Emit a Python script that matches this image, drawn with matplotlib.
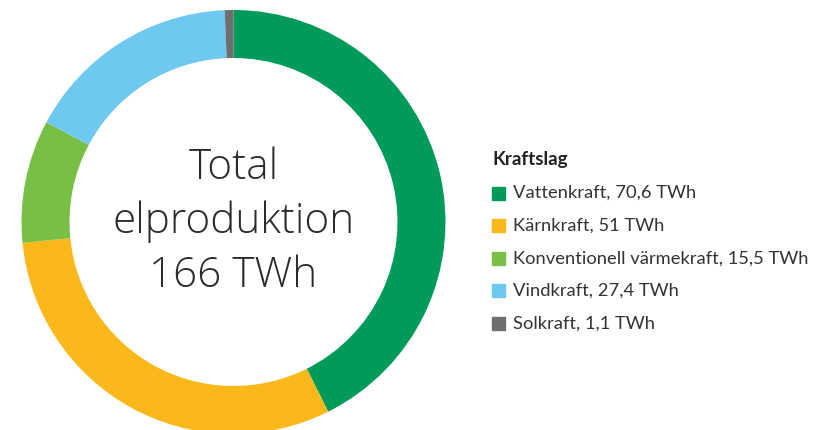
import matplotlib
matplotlib.use("Agg")
from matplotlib import pyplot as plt
from matplotlib.patches import Rectangle

labels = ["Vattenkraft", "Kärnkraft", "Konventionell värmekraft", "Vindkraft", "Solkraft"]
values = [70.6, 51, 15.5, 27.4, 1.1]
value_text = ["70,6", "51", "15,5", "27,4", "1,1"]
colors = ["#009b58", "#fbb81a", "#77bf45", "#6ec8f0", "#6d6e70"]
total_text = "Total\nelproduktion\n166 TWh"
legend_title = "Kraftslag"

plt.rcParams['font.family'] = ['Lato', 'DejaVu Sans']

W, H = 822, 430
fig = plt.figure(figsize=(W / 100, H / 100), dpi=100)

# donut, center ~ (233.5, 222) px from top, outer radius 212 px
cx, cy, r = 233.5, 222, 212
ax = fig.add_axes([(cx - r) / W, (H - cy - r) / H, 2 * r / W, 2 * r / H])
ax.pie(values, colors=colors, startangle=90, counterclock=False, radius=1,
       wedgeprops=dict(width=48 / 212, linewidth=0))
ax.set_xlim(-1, 1)
ax.set_ylim(-1, 1)
ax.axis('off')
ax.text(0, 0.0, total_text, ha='center', va='center', fontsize=30.4,
        family=['Open Sans', 'Lato', 'DejaVu Sans'], fontweight='light',
        color='#2b2b2b', linespacing=1.36)

# legend
lx = 492 / W
fig.text(lx, 1 - 160 / H, legend_title, fontsize=13.5, fontweight='bold',
         color='#222222', va='center', ha='left')
for i, (lab, vt, c) in enumerate(zip(labels, value_text, colors)):
    y = 193 + i * 32.6
    fig.patches.append(Rectangle((492 / W, 1 - (y + 6.5) / H), 13 / W, 13 / H,
                                 transform=fig.transFigure, color=c))
    fig.text(513 / W, 1 - y / H, f"{lab}, {vt} TWh", fontsize=13.2,
             color='#333333', va='center', ha='left')

fig.savefig("out.png", dpi=100)
